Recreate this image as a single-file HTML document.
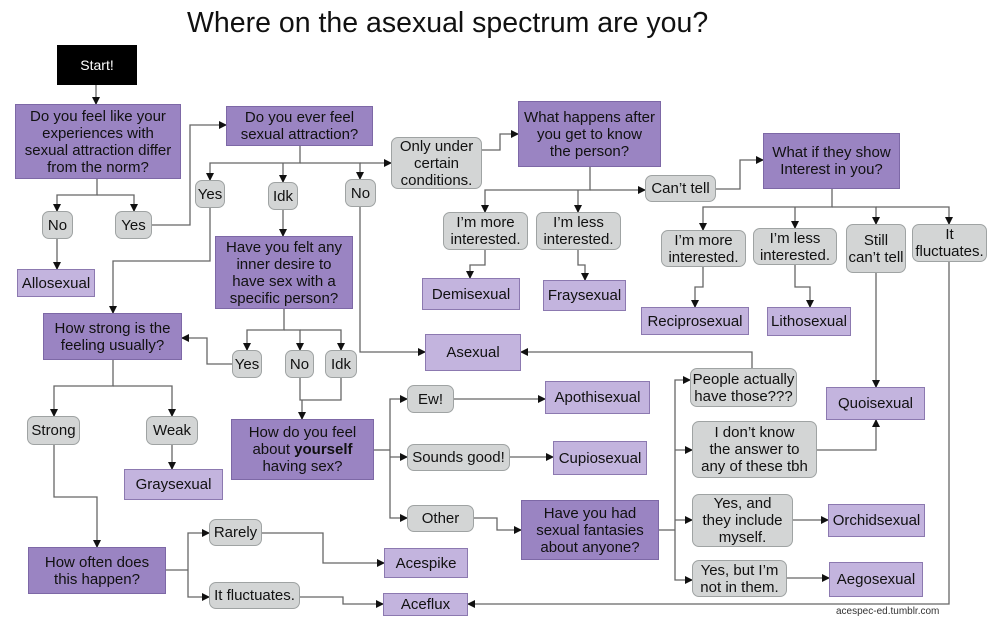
<!DOCTYPE html>
<html><head><meta charset="utf-8"><style>
body{margin:0;width:1000px;height:624px;background:#fff;position:relative;overflow:hidden;font-family:"Liberation Sans",sans-serif;}
.b{position:absolute;display:flex;align-items:center;justify-content:center;text-align:center;font-size:15px;line-height:17px;color:#111;box-sizing:border-box;white-space:nowrap;}
.q{background:#9a84c2;border:1px solid #7d68a6;}
.r{background:#c3b4de;border:1px solid #8c79b0;}
.g{background:#d3d5d5;border:1px solid #9fa3a3;border-radius:7px;}
svg{position:absolute;left:0;top:0;}
</style></head><body>
<div style="position:absolute;left:187px;top:7px;font-size:28.5px;color:#111;">Where on the asexual spectrum are you?</div>
<svg width="1000" height="624"><defs><marker id="a" markerWidth="8" markerHeight="8" refX="7" refY="4" orient="auto" markerUnits="userSpaceOnUse"><path d="M0,0L8,4L0,8z" fill="#111"/></marker></defs>
<g fill="none" stroke="#666" stroke-width="1.3">
<polyline points="96,85 96,104" marker-end="url(#a)"/>
<polyline points="97,179 97,195 57,195 57,211" marker-end="url(#a)"/>
<polyline points="97,195 134,195 134,211" marker-end="url(#a)"/>
<polyline points="57,239 57,269" marker-end="url(#a)"/>
<polyline points="152,225 190,225 190,125 226,125" marker-end="url(#a)"/>
<polyline points="300,146 300,163 210,163 210,180" marker-end="url(#a)"/>
<polyline points="283,163 283,182" marker-end="url(#a)"/>
<polyline points="300,163 360,163 360,179" marker-end="url(#a)"/>
<polyline points="360,163 391,163" marker-end="url(#a)"/>
<polyline points="210,208 210,261 113,261 113,313" marker-end="url(#a)"/>
<polyline points="283,210 283,236" marker-end="url(#a)"/>
<polyline points="360,207 360,352 425,352" marker-end="url(#a)"/>
<polyline points="482,150 500,150 500,134 518,134" marker-end="url(#a)"/>
<polyline points="590,167 590,190 485,190 485,212" marker-end="url(#a)"/>
<polyline points="578,190 578,212" marker-end="url(#a)"/>
<polyline points="590,190 645,190" marker-end="url(#a)"/>
<polyline points="716,189 740,189 740,160 763,160" marker-end="url(#a)"/>
<polyline points="832,189 832,207 703,207 703,230" marker-end="url(#a)"/>
<polyline points="795,207 795,228" marker-end="url(#a)"/>
<polyline points="832,207 876,207 876,224" marker-end="url(#a)"/>
<polyline points="876,207 949,207 949,224" marker-end="url(#a)"/>
<polyline points="485,250 485,265 470,265 470,278" marker-end="url(#a)"/>
<polyline points="578,250 578,265 585,265 585,280" marker-end="url(#a)"/>
<polyline points="703,267 703,287 695,287 695,307" marker-end="url(#a)"/>
<polyline points="795,265 795,287 810,287 810,307" marker-end="url(#a)"/>
<polyline points="876,273 876,387" marker-end="url(#a)"/>
<polyline points="949,262 949,604 468,604" marker-end="url(#a)"/>
<polyline points="284,309 284,330 247,330 247,350" marker-end="url(#a)"/>
<polyline points="284,330 300,330 300,350" marker-end="url(#a)"/>
<polyline points="300,330 341,330 341,350" marker-end="url(#a)"/>
<polyline points="232,364 207,364 207,338 182,338" marker-end="url(#a)"/>
<polyline points="300,378 300,400 341,400 341,378"/>
<polyline points="302,400 302,419" marker-end="url(#a)"/>
<polyline points="113,360 113,386 54,386 54,416" marker-end="url(#a)"/>
<polyline points="113,386 172,386 172,416" marker-end="url(#a)"/>
<polyline points="172,445 172,469" marker-end="url(#a)"/>
<polyline points="54,445 54,497 97,497 97,547" marker-end="url(#a)"/>
<polyline points="374,450 390,450"/>
<polyline points="390,450 390,399 407,399" marker-end="url(#a)"/>
<polyline points="390,457 407,457" marker-end="url(#a)"/>
<polyline points="390,450 390,518 407,518" marker-end="url(#a)"/>
<polyline points="454,399 545,399" marker-end="url(#a)"/>
<polyline points="510,457 553,457" marker-end="url(#a)"/>
<polyline points="474,518 497,518 497,530 521,530" marker-end="url(#a)"/>
<polyline points="659,530 675,530"/>
<polyline points="675,530 675,380 690,380" marker-end="url(#a)"/>
<polyline points="675,450 692,450" marker-end="url(#a)"/>
<polyline points="675,520 692,520" marker-end="url(#a)"/>
<polyline points="675,530 675,580 692,580" marker-end="url(#a)"/>
<polyline points="752,368 752,352 521,352" marker-end="url(#a)"/>
<polyline points="817,450 876,450 876,420" marker-end="url(#a)"/>
<polyline points="793,520 828,520" marker-end="url(#a)"/>
<polyline points="787,578 829,578" marker-end="url(#a)"/>
<polyline points="166,570 188,570"/>
<polyline points="188,570 188,533 209,533" marker-end="url(#a)"/>
<polyline points="188,570 188,597 209,597" marker-end="url(#a)"/>
<polyline points="262,533 323,533 323,563 384,563" marker-end="url(#a)"/>
<polyline points="300,597 343,597 343,604 383,604" marker-end="url(#a)"/>
</g></svg>
<div class="b" style="left:57px;top:45px;width:80px;height:40px;background:#000;color:#fff;font-size:14px;">Start!</div>
<div class="b q" style="left:15px;top:104px;width:166px;height:75px;"><span>Do you feel like your<br>experiences with<br>sexual attraction differ<br>from the norm?</span></div>
<div class="b q" style="left:226px;top:106px;width:147px;height:40px;"><span>Do you ever feel<br>sexual attraction?</span></div>
<div class="b g" style="left:391px;top:137px;width:91px;height:52px;"><span>Only under<br>certain<br>conditions.</span></div>
<div class="b q" style="left:518px;top:101px;width:143px;height:66px;"><span>What happens after<br>you get to know<br>the person?</span></div>
<div class="b g" style="left:645px;top:175px;width:71px;height:27px;">Can’t tell</div>
<div class="b q" style="left:763px;top:133px;width:137px;height:56px;"><span>What if they show<br>Interest in you?</span></div>
<div class="b g" style="left:195px;top:180px;width:30px;height:28px;">Yes</div>
<div class="b g" style="left:268px;top:182px;width:30px;height:28px;">Idk</div>
<div class="b g" style="left:345px;top:179px;width:31px;height:28px;">No</div>
<div class="b g" style="left:42px;top:211px;width:31px;height:28px;">No</div>
<div class="b g" style="left:115px;top:211px;width:37px;height:28px;">Yes</div>
<div class="b r" style="left:17px;top:269px;width:78px;height:28px;">Allosexual</div>
<div class="b q" style="left:215px;top:236px;width:138px;height:73px;"><span>Have you felt any<br>inner desire to<br>have sex with a<br>specific person?</span></div>
<div class="b g" style="left:443px;top:212px;width:85px;height:38px;"><span>I’m more<br>interested.</span></div>
<div class="b g" style="left:536px;top:212px;width:85px;height:38px;"><span>I’m less<br>interested.</span></div>
<div class="b r" style="left:422px;top:278px;width:98px;height:32px;">Demisexual</div>
<div class="b r" style="left:543px;top:280px;width:83px;height:31px;">Fraysexual</div>
<div class="b g" style="left:661px;top:230px;width:85px;height:37px;"><span>I’m more<br>interested.</span></div>
<div class="b g" style="left:753px;top:228px;width:84px;height:37px;"><span>I’m less<br>interested.</span></div>
<div class="b g" style="left:846px;top:224px;width:60px;height:49px;"><span>Still<br>can’t tell</span></div>
<div class="b g" style="left:912px;top:224px;width:75px;height:38px;"><span>It<br>fluctuates.</span></div>
<div class="b r" style="left:641px;top:307px;width:108px;height:28px;">Reciprosexual</div>
<div class="b r" style="left:767px;top:307px;width:84px;height:29px;">Lithosexual</div>
<div class="b q" style="left:43px;top:313px;width:139px;height:47px;"><span>How strong is the<br>feeling usually?</span></div>
<div class="b g" style="left:232px;top:350px;width:30px;height:28px;">Yes</div>
<div class="b g" style="left:285px;top:350px;width:29px;height:28px;">No</div>
<div class="b g" style="left:325px;top:350px;width:32px;height:28px;">Idk</div>
<div class="b r" style="left:425px;top:334px;width:96px;height:37px;">Asexual</div>
<div class="b g" style="left:27px;top:416px;width:53px;height:29px;">Strong</div>
<div class="b g" style="left:146px;top:416px;width:52px;height:29px;">Weak</div>
<div class="b r" style="left:124px;top:469px;width:99px;height:31px;">Graysexual</div>
<div class="b q" style="left:231px;top:419px;width:143px;height:61px;"><span>How do you feel<br>about <b>yourself</b><br>having sex?</span></div>
<div class="b g" style="left:407px;top:385px;width:47px;height:28px;">Ew!</div>
<div class="b g" style="left:407px;top:444px;width:103px;height:27px;">Sounds good!</div>
<div class="b g" style="left:407px;top:505px;width:67px;height:27px;">Other</div>
<div class="b r" style="left:545px;top:381px;width:105px;height:33px;">Apothisexual</div>
<div class="b r" style="left:553px;top:441px;width:94px;height:34px;">Cupiosexual</div>
<div class="b q" style="left:521px;top:500px;width:138px;height:60px;"><span>Have you had<br>sexual fantasies<br>about anyone?</span></div>
<div class="b g" style="left:690px;top:368px;width:107px;height:39px;"><span>People actually<br>have those???</span></div>
<div class="b g" style="left:692px;top:421px;width:125px;height:57px;"><span>I don’t know<br>the answer to<br>any of these tbh</span></div>
<div class="b g" style="left:692px;top:494px;width:101px;height:53px;"><span>Yes, and<br>they include<br>myself.</span></div>
<div class="b g" style="left:692px;top:560px;width:95px;height:37px;"><span>Yes, but I’m<br>not in them.</span></div>
<div class="b r" style="left:826px;top:387px;width:99px;height:33px;">Quoisexual</div>
<div class="b r" style="left:828px;top:504px;width:97px;height:33px;">Orchidsexual</div>
<div class="b r" style="left:829px;top:562px;width:94px;height:35px;">Aegosexual</div>
<div class="b q" style="left:28px;top:547px;width:138px;height:47px;"><span>How often does<br>this happen?</span></div>
<div class="b g" style="left:209px;top:519px;width:53px;height:27px;">Rarely</div>
<div class="b g" style="left:209px;top:582px;width:91px;height:27px;">It fluctuates.</div>
<div class="b r" style="left:384px;top:548px;width:84px;height:30px;">Acespike</div>
<div class="b r" style="left:383px;top:593px;width:85px;height:23px;">Aceflux</div>
<div style="position:absolute;left:836px;top:606px;font-size:10px;color:#333;">acespec-ed.tumblr.com</div>
</body></html>
